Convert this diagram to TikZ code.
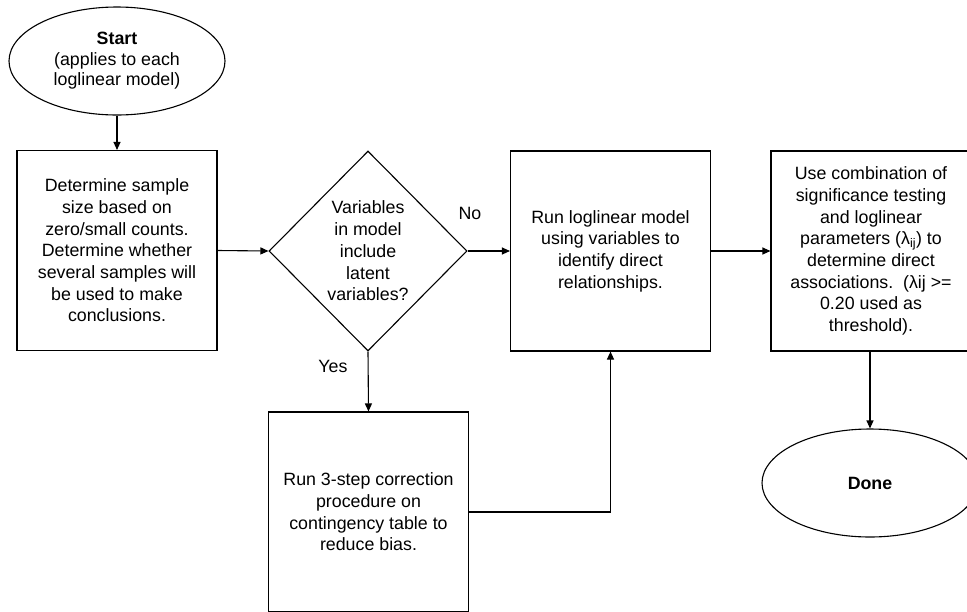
\documentclass[tikz,border=0pt]{standalone}
\usepackage{fontspec}
\setmainfont{Liberation Sans}
\usetikzlibrary{shapes.geometric,arrows.meta}
\begin{document}
\begin{tikzpicture}[x=1pt,y=-1pt,
  every node/.style={font=\fontsize{17.8}{21.7}\selectfont, align=center},
  flowbox/.style={draw, line width=1.1pt, minimum width=200pt, minimum height=200pt, inner sep=0pt},
  terminal/.style={draw, line width=1.1pt, ellipse, minimum width=216pt, minimum height=108pt, inner sep=0pt},
  decision/.style={draw, line width=1.1pt, diamond, minimum width=198pt, minimum height=200pt, inner sep=0pt},
  flow/.style={line width=1.1pt, -{Triangle[length=8pt,width=7pt]}},
  lbl/.style={font=\fontsize{17.8}{21.7}\selectfont}
]
\useasboundingbox (0,0) rectangle (967,611);
\clip (0,0) rectangle (967,611);

% terminals
\node[terminal, font=\fontsize{17.8}{20.5}\selectfont] (start) at (117,61)
  {\textbf{Start}\\(applies to each\\loglinear model)};
\node[terminal] (done) at (870,483) {\textbf{Done}};

% process steps
\node[flowbox] (sample) at (117,250.5)
  {Determine sample\\size based on\\zero/small counts.\\Determine whether\\several samples will\\be used to make\\conclusions.};
\node[decision] (latent) at (368,251)
  {Variables\\in model\\include\\latent\\variables?};
\node[flowbox] (model) at (610.5,251)
  {Run loglinear model\\using variables to\\identify direct\\relationships.};
\node[flowbox] (assoc) at (871,251)
  {Use combination of\\significance testing\\and loglinear\\parameters (λ\textsubscript{ij}) to\\determine direct\\associations.\ \ (λij >=\\0.20 used as\\threshold).};
\node[flowbox] (correct) at (368.5,512)
  {Run 3-step correction\\procedure on\\contingency table to\\reduce bias.};

% connectors
\draw[flow] (start.south) -- (sample.north);
\draw[flow] (sample.east) -- (latent.west);
\draw[flow] (latent.east) -- (model.west);
\draw[flow] (latent.south) -- (correct.north);
\draw[flow] (correct.east) -| (model.south);
\draw[flow] (model.east) -- (assoc.west);
\draw[flow] (assoc.south -| done.north) -- (done.north);

% branch labels
\node[lbl] (nolbl) at (470,213) {No};
\node[lbl] (yeslbl) at (333,366) {Yes};
\end{tikzpicture}
\end{document}
